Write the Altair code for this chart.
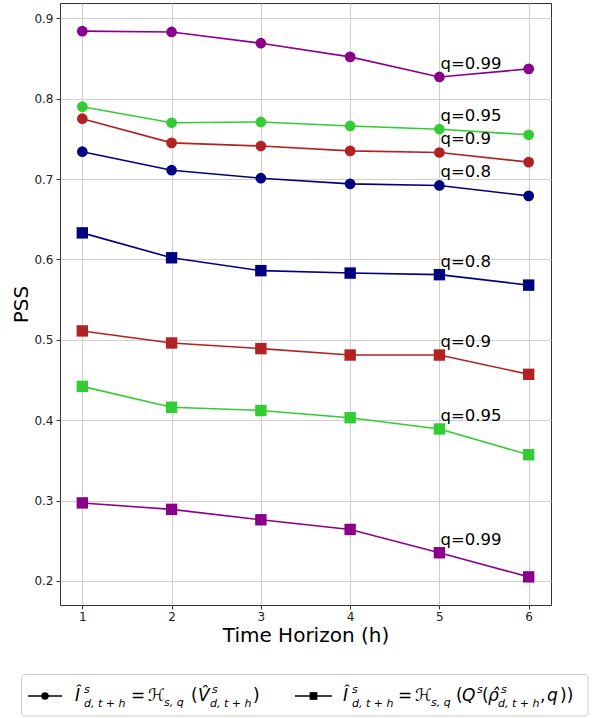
import altair as alt
import pandas as pd

# ---------------- data ----------------
horizons = [1, 2, 3, 4, 5, 6]
quantiles = ["0.8", "0.9", "0.95", "0.99"]
q_colors = ["#000080", "#B22222", "#32CD32", "#8B008B"]

# circles: H_{s,q}(V^s_{d,t+h})
circ_08 = [0.734, 0.711, 0.701, 0.694, 0.692, 0.679]
circ_09 = [0.775, 0.745, 0.741, 0.735, 0.733, 0.721]
circ_095 = [0.790, 0.770, 0.771, 0.766, 0.762, 0.755]
circ_099 = [0.884, 0.883, 0.869, 0.852, 0.827, 0.837]
# squares: H_{s,q}(Q^s(rho^s_{d,t+h}, q))
sq_08 = [0.633, 0.602, 0.586, 0.583, 0.581, 0.568]
sq_09 = [0.511, 0.496, 0.489, 0.481, 0.481, 0.457]
sq_095 = [0.442, 0.416, 0.412, 0.403, 0.389, 0.357]
sq_099 = [0.297, 0.289, 0.276, 0.264, 0.235, 0.205]

series = {
    ("circle", "0.8"): circ_08,
    ("circle", "0.9"): circ_09,
    ("circle", "0.95"): circ_095,
    ("circle", "0.99"): circ_099,
    ("square", "0.8"): sq_08,
    ("square", "0.9"): sq_09,
    ("square", "0.95"): sq_095,
    ("square", "0.99"): sq_099,
}

rows = []
for (kind, q), vals in series.items():
    for h, v in zip(horizons, vals):
        rows.append({"h": h, "pss": v, "q": q, "kind": kind, "label": "q=" + q})
df = pd.DataFrame(rows)

FONT = "DejaVu Sans"
W, H = 491, 602
PL, PT = 60, 3

x_enc = alt.X(
    "h:Q",
    scale=alt.Scale(domain=[0.75, 6.25], nice=False, zero=False),
    axis=alt.Axis(values=horizons, format="d", title="Time Horizon (h)",
                  titlePadding=3, labelPadding=2, tickSize=4),
)
y_enc = alt.Y(
    "pss:Q",
    scale=alt.Scale(domain=[0.17, 0.919], nice=False, zero=False),
    axis=alt.Axis(values=[0.2, 0.3, 0.4, 0.5, 0.6, 0.7, 0.8, 0.9], format=".1f",
                  title="PSS", titlePadding=2, labelPadding=3, tickSize=4),
)
color_enc = alt.Color("q:N", scale=alt.Scale(domain=quantiles, range=q_colors), legend=None)

base = alt.Chart(df)

lines = base.mark_line(strokeWidth=1.6).encode(
    x=x_enc, y=y_enc, color=color_enc, detail="kind:N"
)
points = base.mark_point(filled=True, opacity=1).encode(
    x=x_enc, y=y_enc, color=color_enc,
    shape=alt.Shape("kind:N", scale=alt.Scale(domain=["circle", "square"], range=["circle", "square"]), legend=None),
    size=alt.Size("kind:N", scale=alt.Scale(domain=["circle", "square"], range=[115, 130]), legend=None),
)
labels = base.transform_filter(alt.datum.h == 5).mark_text(
    align="left", baseline="alphabetic", dx=1, dy=-8, fontSize=16.5, font=FONT, color="black"
).encode(x=x_enc, y=y_enc, text="label:N")

# ---------------- custom legend (math-like label) ----------------
dummy = alt.Chart(pd.DataFrame({"a": [0]}))
legend_layers = [
    dummy.mark_rect(fill="white", stroke="#cccccc", strokeWidth=1, cornerRadius=3).encode(
        x=alt.value(21.5 - PL), x2=alt.value(588 - PL), y=alt.value(674.5 - PT), y2=alt.value(716 - PT)
    ),
    dummy.mark_rule(color="black", strokeWidth=1.5).encode(
        x=alt.value(28 - PL), x2=alt.value(62 - PL), y=alt.value(696 - PT)
    ),
    dummy.mark_point(filled=True, color="black", shape="circle", size=55, opacity=1).encode(
        x=alt.value(45 - PL), y=alt.value(696 - PT)
    ),
    dummy.mark_rule(color="black", strokeWidth=1.5).encode(
        x=alt.value(295 - PL), x2=alt.value(332 - PL), y=alt.value(696 - PT)
    ),
    dummy.mark_point(filled=True, color="black", shape="square", size=60, opacity=1).encode(
        x=alt.value(313.5 - PL), y=alt.value(696 - PT)
    ),
]

BIG, SMALL = 17, 11
BASE_Y, SUP_Y, SUB_Y = 701, 693, 707
SUB = "d, t + h"
pieces = [
    # item 1
    ("Î", 75, BASE_Y, BIG, "italic"),
    ("s", 84, SUP_Y, SMALL, "italic"),
    (SUB, 84, SUB_Y, SMALL, "italic"),
    ("=", 131, BASE_Y, BIG, "normal"),
    ("ℋ", 148, BASE_Y, BIG, "normal"),
    ("s, q", 164, SUB_Y - 1, SMALL, "italic"),
    ("(", 191, BASE_Y, BIG, "normal"),
    ("V̂", 198, BASE_Y, BIG, "italic"),
    ("s", 212, SUP_Y, SMALL, "italic"),
    (SUB, 210, SUB_Y, SMALL, "italic"),
    (")", 253, BASE_Y, BIG, "normal"),
    # item 2
    ("Î", 343, BASE_Y, BIG, "italic"),
    ("s", 352, SUP_Y, SMALL, "italic"),
    (SUB, 352, SUB_Y, SMALL, "italic"),
    ("=", 398, BASE_Y, BIG, "normal"),
    ("ℋ", 415, BASE_Y, BIG, "normal"),
    ("s, q", 431, SUB_Y - 1, SMALL, "italic"),
    ("(", 456, BASE_Y, BIG, "normal"),
    ("Q", 462, BASE_Y, BIG, "italic"),
    ("s", 477, SUP_Y, SMALL, "italic"),
    ("(", 482, BASE_Y, BIG, "normal"),
    ("ρ̂", 488, BASE_Y, BIG, "italic"),
    ("s", 501, SUP_Y, SMALL, "italic"),
    (SUB, 498, SUB_Y, SMALL, "italic"),
    (",", 540, BASE_Y, BIG, "normal"),
    ("q", 547, BASE_Y, BIG, "italic"),
    ("))", 560, BASE_Y, BIG, "normal"),
]
for t, px, py, fs, st in pieces:
    legend_layers.append(
        dummy.mark_text(align="left", baseline="alphabetic", font=FONT, fontSize=fs,
                        fontStyle=st, color="black").encode(
            x=alt.value(px - PL), y=alt.value(py - PT), text=alt.value(t)
        )
    )

chart = alt.layer(lines, points, labels, *legend_layers).properties(
    width=W, height=H,
    autosize=alt.AutoSizeParams(type="none"),
    padding={"left": PL, "top": PT, "right": 594 - PL - W, "bottom": 718 - PT - H},
    background="white",
).configure_view(
    stroke="#333333", strokeWidth=1
).configure_axis(
    labelFont=FONT, titleFont=FONT, labelFontSize=12, titleFontSize=20,
    titleFontWeight="normal", labelColor="#222222", titleColor="#000000",
    domain=False, grid=True, gridColor="#cfcfcf", gridWidth=1,
    tickColor="#333333", tickWidth=1,
)

chart.save("out.html", embed_options={"renderer": "svg", "actions": False})
